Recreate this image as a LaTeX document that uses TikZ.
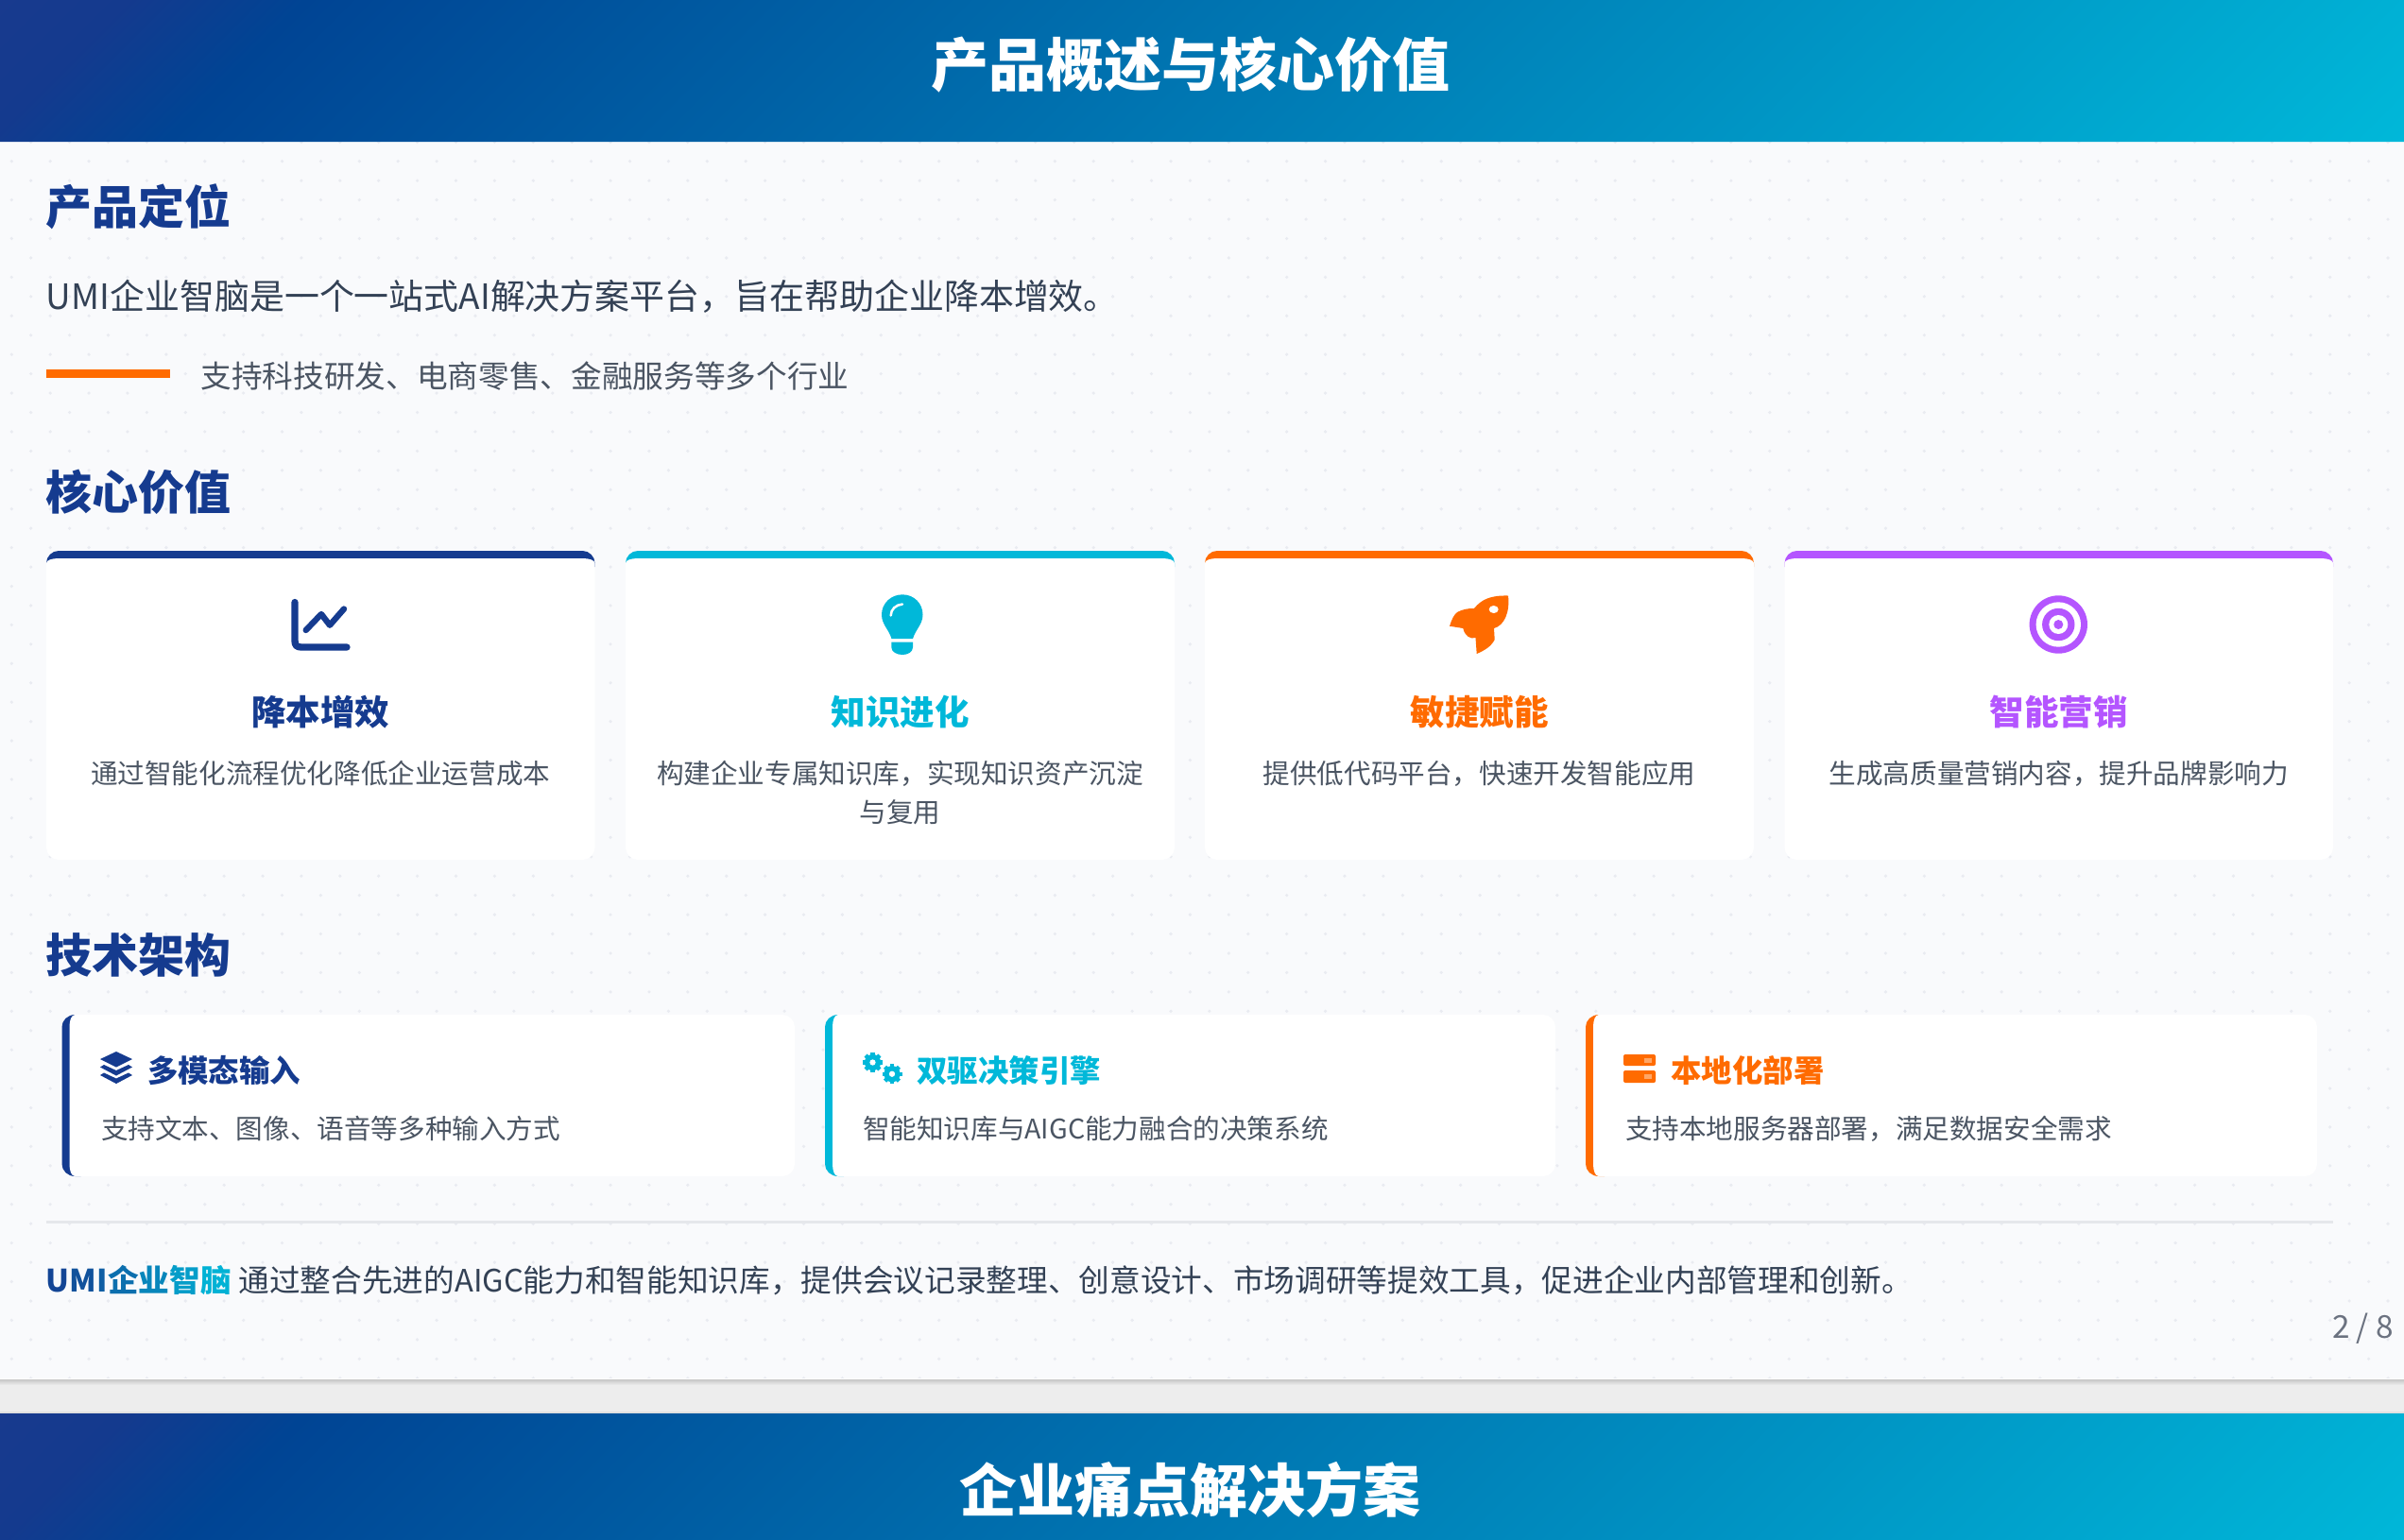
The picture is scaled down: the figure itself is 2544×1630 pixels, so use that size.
\documentclass[tikz,border=0pt]{standalone}
\usepackage{fontspec}
\setmainfont{Noto Sans CJK SC}
\definecolor{hdark}{HTML}{153B8F}
\definecolor{hcyan}{HTML}{00B8D9}
\definecolor{gradA}{HTML}{183A8E}
\definecolor{gradB}{HTML}{143A8E}
\definecolor{gradC}{HTML}{004494}
\definecolor{horange}{HTML}{FF6B00}
\definecolor{hpurple}{HTML}{B455FF}
\definecolor{panelbg}{HTML}{F9FAFC}
\definecolor{dotc}{HTML}{E9EBF1}
\definecolor{gapc}{HTML}{EDEDED}
\definecolor{bodyc}{HTML}{334155}
\definecolor{descc}{HTML}{4B5563}
\definecolor{pagec}{HTML}{6B7280}
\definecolor{rulec}{HTML}{E5E7EB}
\definecolor{srvlight}{HTML}{FFA666}
\pgfdeclarehorizontalshading{hdrgrad}{100bp}{color(0bp)=(gradA); color(25bp)=(gradA); color(27.5bp)=(gradB); color(31bp)=(gradC); color(75bp)=(hcyan); color(100bp)=(hcyan)}
\tikzset{
  txt/.style={inner sep=0pt,outer sep=0pt},
  hdtitle/.style={txt,anchor=base,text=white,font=\fontsize{18.3}{22}\selectfont\bfseries},
  sectitle/.style={txt,anchor=base west,text=hdark,font=\fontsize{14.7}{18}\selectfont\bfseries},
  bodytxt/.style={txt,anchor=base west,text=bodyc,font=\fontsize{11.08}{14}\selectfont},
  subtxt/.style={txt,anchor=base west,text=descc,font=\fontsize{9.8}{12}\selectfont},
  cardtitle/.style={txt,anchor=base,font=\fontsize{10.95}{14}\selectfont\bfseries},
  carddesc/.style={txt,anchor=base,text=descc,font=\fontsize{8.58}{11}\selectfont},
  techtitle/.style={txt,anchor=base west,font=\fontsize{9.72}{12}\selectfont\bfseries},
  techdesc/.style={txt,anchor=base west,text=descc,font=\fontsize{8.58}{11}\selectfont},
  foottxt/.style={txt,anchor=base west,text=bodyc,font=\fontsize{9.8}{12}\selectfont},
}
\newcommand{\hdrband}[1]{%
  \begin{scope}
    \clip (0,#1) rectangle (2544,{#1+150});
    \begin{scope}[transform canvas={shift={(0,#1)},xslant=1}]
      \shade[shading=hdrgrad] (0,0) rectangle (2694,150);
    \end{scope}
  \end{scope}}
\newcommand{\topcard}[3]{% x0 x1 colour
  \fill[#3] (#1,596) .. controls (#1,589) and ({#1+6},583) .. ({#1+13},583) -- ({#2-13},583)
     .. controls ({#2-6},583) and (#2,589) .. (#2,596) -- (#2,600) -- (#1,600) -- cycle;
  \fill[white] (#1,596) .. controls (#1,593) and ({#1+6},591) .. ({#1+13},591) -- ({#2-13},591)
     .. controls ({#2-6},591) and (#2,593) .. (#2,596) -- (#2,897)
     .. controls (#2,904) and ({#2-6},910) .. ({#2-13},910) -- ({#1+13},910)
     .. controls ({#1+6},910) and (#1,904) .. (#1,897) -- cycle;}
\newcommand{\techcard}[3]{% x0 x1 colour
  \fill[#3] ({#1+14},1074) .. controls ({#1+6},1074) and (#1,1080) .. (#1,1087) -- (#1,1232)
     .. controls (#1,1239) and ({#1+6},1245) .. ({#1+14},1245) -- ({#1+20},1245) -- ({#1+20},1074) -- cycle;
  \fill[white] ({#1+14},1074) -- ({#2-13},1074) .. controls ({#2-6},1074) and (#2,1080) .. (#2,1087) -- (#2,1232)
     .. controls (#2,1239) and ({#2-6},1245) .. ({#2-13},1245) -- ({#1+14},1245)
     .. controls ({#1+10},1245) and ({#1+8},1239) .. ({#1+8},1232) -- ({#1+8},1087)
     .. controls ({#1+8},1080) and ({#1+10},1074) .. ({#1+14},1074) -- cycle;}
\newcommand{\gearicon}[3]{% x y r
  \foreach \a in {0,45,...,315}{\draw[hcyan,line width=1.3pt] (#1,#2) -- ++(\a:#3);}
  \fill[hcyan] (#1,#2) circle ({0.82*#3});
  \fill[white] (#1,#2) circle ({0.3*#3});}
\begin{document}
\begin{tikzpicture}[x=0.3pt,y=-0.3pt]
\useasboundingbox (0,0) rectangle (2544,1630);
% page background
\fill[panelbg] (0,0) rectangle (2544,1630);
% dotted pattern
\foreach \k in {0,...,62}{\foreach \m in {0,...,32}{
   \fill[dotc] ({12.3+40.89*\k},{170.7+40.89*\m}) circle (1.8);
   \fill[dotc] ({32.7+40.89*\k},{150.3+40.89*\m}) circle (1.8);}}
% gap between slides
\fill[gapc] (0,1460) rectangle (2544,1496);
\shade[top color=black!22,bottom color=gapc] (0,1460) rectangle (2544,1466);
\fill[black!12] (0,1494) rectangle (2544,1496);
\fill[white] (0,1458.6) rectangle (2544,1460);
% headers
\hdrband{0}
\hdrband{1496}
\node[hdtitle] (title1) at (1259.5,91.5) {产品概述与核心价值};
\node[hdtitle] (title2) at (1259.5,1600) {企业痛点解决方案};
% product positioning
\node[sectitle] (s1) at (49,237) {产品定位};
\node[bodytxt] (b1) at (49,327) {UMI企业智脑是一个一站式AI解决方案平台，旨在帮助企业降本增效。};
\fill[horange] (49,391) rectangle (180,400);
\node[subtxt] (b2) at (212.5,410) {支持科技研发、电商零售、金融服务等多个行业};
% core values
\node[sectitle] (s2) at (49,539) {核心价值};
\topcard{49}{629.5}{hdark}
\topcard{662}{1243}{hcyan}
\topcard{1275}{1856}{horange}
\topcard{1888.5}{2469}{hpurple}
% icon: chart
\draw[hdark,line width=2.2pt,line cap=round,line join=round] (312,637.5) -- (312,678) .. controls (312,683) and (314,685) .. (319,685) -- (367,685);
\draw[hdark,line width=1.9pt,line cap=round,line join=round] (323.7,667) -- (340,650) -- (349,661.7) -- (364,644.5);
% icon: bulb
\fill[hcyan] (955,629.3) .. controls (967,629.3) and (976.5,638.5) .. (976.5,650.5)
   .. controls (976.5,661) and (969,666) .. (966,676) -- (943.5,676)
   .. controls (940.5,666) and (933,661) .. (933,650.5)
   .. controls (933,638.5) and (943,629.3) .. (955,629.3) -- cycle;
\fill[hcyan] (943.3,679.5) -- (966,679.5) -- (966,685) .. controls (966,690) and (961,693) .. (955,693)
   .. controls (949,693) and (943.3,690) .. (943.3,685) -- cycle;
\draw[white,line width=0.75pt,line cap=round] (942.7,651.5) .. controls (942.7,645) and (948,640) .. (955,639.5);
% icon: rocket
\fill[horange] (1534,662.7) .. controls (1536,656) and (1539,650) .. (1542,648) .. controls (1548,645) and (1552,644) .. (1560,644)
   .. controls (1568,634) and (1578,630) .. (1596,630.5)
   .. controls (1598,648) and (1592,662) .. (1581,665) -- (1581.7,677)
   .. controls (1578,684) and (1572,688) .. (1562.7,692)
   -- (1561.5,675) .. controls (1556,677) and (1550,673) .. (1548.3,665) -- cycle;
\fill[white] (1580.7,645) ellipse (5 and 4);
% icon: target
\fill[hpurple] (2178.3,661) circle (30.7);
\fill[white] (2178.3,661) circle (23.7);
\fill[hpurple] (2178.3,661) circle (17.2);
\fill[white] (2178.3,661) circle (10);
\fill[hpurple] (2178.3,661) circle (5);
% card texts
\node[cardtitle,text=hdark] (c1t) at (339.2,767) {降本增效};
\node[carddesc] (c1d) at (339.2,829) {通过智能化流程优化降低企业运营成本};
\node[cardtitle,text=hcyan] (c2t) at (952.5,767) {知识进化};
\node[carddesc] (c2d) at (952.5,829) {构建企业专属知识库，实现知识资产沉淀};
\node[carddesc] (c2e) at (952.5,870) {与复用};
\node[cardtitle,text=horange] (c3t) at (1565.5,767) {敏捷赋能};
\node[carddesc] (c3d) at (1565.5,829) {提供低代码平台，快速开发智能应用};
\node[cardtitle,text=hpurple] (c4t) at (2178.7,767) {智能营销};
\node[carddesc] (c4d) at (2178.7,829) {生成高质量营销内容，提升品牌影响力};
% architecture
\node[sectitle] (s3) at (49,1029.5) {技术架构};
\techcard{65.5}{841}{hdark}
\techcard{873}{1646}{hcyan}
\techcard{1678}{2452}{horange}
% icon: layers
\fill[hdark] (123,1113) -- (140,1121) -- (123,1129.5) -- (106,1121) -- cycle;
\fill[hdark] (106,1129.5) -- (110,1127) -- (123,1133) -- (136,1127) -- (140,1129.5) -- (123,1138.5) -- cycle;
\fill[hdark] (106,1138) -- (110,1135.5) -- (123,1141.5) -- (136,1135.5) -- (140,1138) -- (123,1147) -- cycle;
% icon: gears
\gearicon{923.5}{1124.5}{10.5}
\gearicon{944}{1136.7}{10.5}
% icon: server
\fill[horange,rounded corners=0.6pt] (1718,1116) rectangle (1752,1128);
\fill[horange,rounded corners=0.6pt] (1718,1133) rectangle (1752,1146);
\fill[srvlight] (1739.5,1120) rectangle (1748,1124.5);
\fill[srvlight] (1739.5,1137) rectangle (1748,1141.5);
% architecture texts
\node[techtitle,text=hdark] (t1t) at (156,1145) {多模态输入};
\node[techdesc] (t1d) at (107,1205.5) {支持文本、图像、语音等多种输入方式};
\node[techtitle,text=hcyan] (t2t) at (970.5,1145) {双驱决策引擎};
\node[techdesc] (t2d) at (913,1205.5) {智能知识库与AIGC能力融合的决策系统};
\node[techtitle,text=horange] (t3t) at (1768.5,1145) {本地化部署};
\node[techdesc] (t3d) at (1720,1205.5) {支持本地服务器部署，满足数据安全需求};
% footer
\fill[rulec] (49,1291.5) rectangle (2469,1294.5);
\node[foottxt,font=\fontsize{9.8}{12}\selectfont\bfseries] (f1) at (49,1367)
  {\textcolor{hcyan!8!hdark}{U}\textcolor{hcyan!18!hdark}{M}\textcolor{hcyan!28!hdark}{I}\textcolor{hcyan!42!hdark}{企}\textcolor{hcyan!60!hdark}{业}\textcolor{hcyan!78!hdark}{智}\textcolor{hcyan!95!hdark}{脑}};
\node[foottxt] (f2) at (252.5,1367) {通过整合先进的AIGC能力和智能知识库，提供会议记录整理、创意设计、市场调研等提效工具，促进企业内部管理和创新。};
\node[txt,anchor=base east,text=pagec,font=\fontsize{10}{13}\selectfont] (pg) at (2533,1416) {2 / 8};
\end{tikzpicture}
\end{document}
